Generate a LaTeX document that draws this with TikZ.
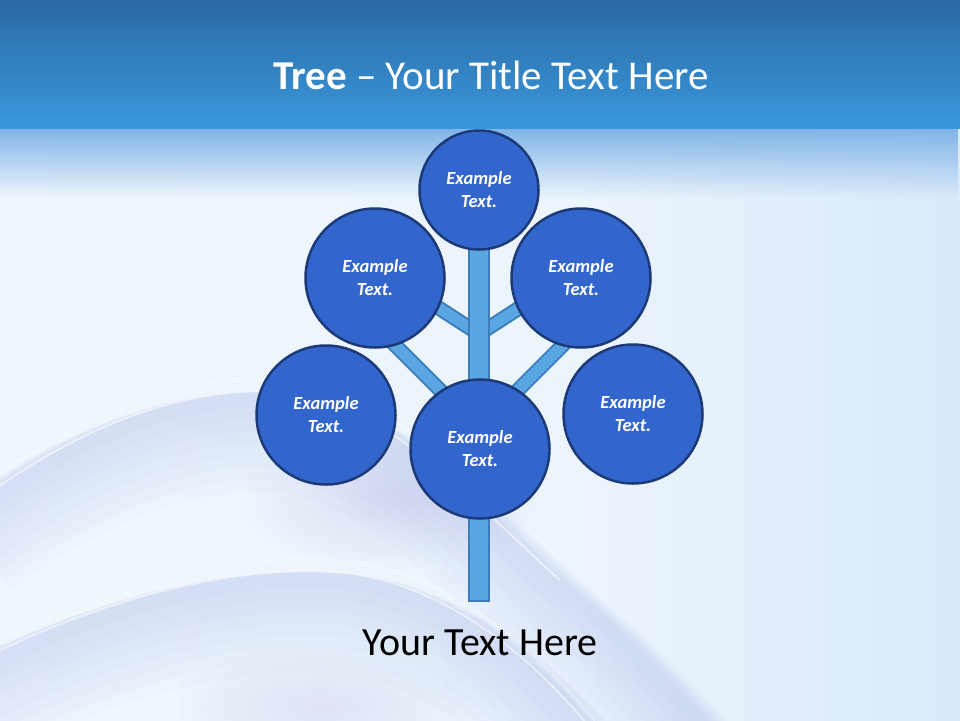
\documentclass[tikz,border=0pt]{standalone}
\usepackage{fontspec}
\setmainfont{Carlito}
\usetikzlibrary{fadings,calc}
\pgfdeclarelayer{bg}
\pgfdeclarelayer{branches}
\pgfsetlayers{bg,branches,main}
\definecolor{hdrTop}{HTML}{2A6AA3}
\definecolor{hdrBot}{HTML}{3A97DD}
\definecolor{glow}{HTML}{80B4E8}
\definecolor{wave}{HTML}{A3B3E6}
\definecolor{lav}{HTML}{B2ADE2}
\definecolor{circFill}{HTML}{3366CC}
\definecolor{circLine}{HTML}{1C3A78}
\definecolor{barFill}{HTML}{5AA6E2}
\definecolor{barLine}{HTML}{3C7DB9}
\pgfdeclarehorizontalshading{bgshade}{100bp}{%
  color(0bp)=(rgb,255:red,243;green,248;blue,253);
  color(55bp)=(rgb,255:red,236;green,244;blue,252);
  color(100bp)=(rgb,255:red,196;green,221;blue,247)}
\tikzfading[name=fadedown, top color=transparent!0, bottom color=transparent!100]
\tikzfading[name=softspot, inner color=transparent!0, outer color=transparent!100]
\begin{document}
\begin{tikzpicture}[x=1pt,y=-1pt,
  bubble/.style={circle, fill=circFill, draw=circLine, line width=2.5pt,
    minimum size=#1, inner sep=0pt, text=white, align=center,
    font=\fontsize{18.5}{23}\selectfont\bfseries\itshape},
  bar/.style={draw=barLine, line width=2pt, double=barFill, double distance=11pt, line cap=butt},
  trunkbar/.style={fill=barFill, draw=barLine, line width=2pt},
]
\useasboundingbox (0,0) rectangle (960,720);

% background
\begin{pgfonlayer}{bg}
  \shade[shading=bgshade] (0,128) rectangle (960,720);
  \fill[glow, path fading=fadedown] (0,128) rectangle (960,198);
  % soft lavender washes
  \foreach \w in {100,88,76,64,52,40,28,16} {
    \draw[wave, line width=\w pt, opacity=0.045, yshift=-0.5*\w pt]
      (-20,500) .. controls (100,410) and (220,380) .. (300,395)
      .. controls (400,415) and (470,500) .. (560,580)
      .. controls (620,630) and (680,690) .. (720,740);
    \draw[wave, line width=\w pt, opacity=0.045, yshift=-0.5*\w pt]
      (-20,660) .. controls (120,590) and (260,560) .. (360,575)
      .. controls (440,590) and (520,640) .. (600,740);
  }
  \fill[lav, opacity=0.3, path fading=softspot] (390,500) ellipse (150 and 70);
  \fill[lav, opacity=0.25, path fading=softspot] (320,705) ellipse (150 and 60);
  % light streaks
  \draw[white, line width=2pt, opacity=0.55]
      (-20,500) .. controls (100,410) and (220,380) .. (300,395)
      .. controls (400,415) and (470,500) .. (560,580);
  \draw[white, line width=1.5pt, opacity=0.4]
      (-20,488) .. controls (100,398) and (220,368) .. (300,383)
      .. controls (380,398) and (440,450) .. (500,510);
  \draw[white, line width=2pt, opacity=0.5]
      (-20,660) .. controls (120,590) and (260,560) .. (360,575)
      .. controls (440,590) and (520,640) .. (600,740);
  \draw[white, line width=1.5pt, opacity=0.35]
      (-20,648) .. controls (120,578) and (260,548) .. (360,563)
      .. controls (440,578) and (520,628) .. (600,728);
  \shade[top color=hdrTop, bottom color=hdrBot] (0,0) rectangle (960,128);
\end{pgfonlayer}

\node[text=white, font=\fontsize{41}{46}\selectfont] (title) at (491,75)
  {\textbf{Tree} -- Your Title Text Here};

% circles
\node[bubble=119] (top) at (479,190) {Example\\Text.};
\node[bubble=139] (ul) at (375,278) {Example\\Text.};
\node[bubble=139] (ur) at (581,278) {Example\\Text.};
\node[bubble=139] (ll) at (326,415) {Example\\Text.};
\node[bubble=139] (cc) at (480,449) {Example\\Text.};
\node[bubble=139] (lr) at (633,414) {Example\\Text.};

% branch coordinates
\coordinate (j1) at (479,334);
\coordinate (j2) at (479,429);
\coordinate (b1) at (400,283);
\coordinate (b2) at (558,283);
\coordinate (b3) at (385,335);
\coordinate (b4) at (573,335);
\coordinate (trunkEnd) at (479,601);

\begin{pgfonlayer}{branches}
  \draw[bar] (j1) -- (b1);
  \draw[bar] (j1) -- (b2);
  \draw[bar] (j2) -- (b3);
  \draw[bar] (j2) -- (b4);
  \draw[trunkbar] ($(top.center)+(-10,0)$) rectangle ($(trunkEnd)+(10,0)$);
\end{pgfonlayer}

\node[font=\fontsize{40}{46}\selectfont] (caption) at (480,643) {Your Text Here};
\end{tikzpicture}
\end{document}
